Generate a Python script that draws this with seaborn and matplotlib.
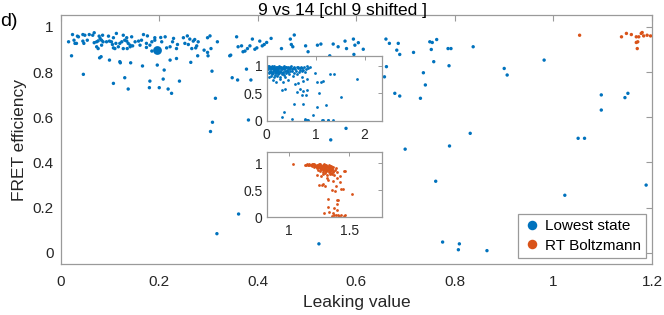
import matplotlib
matplotlib.use("Agg")
import matplotlib.pyplot as plt
import seaborn as sns
import pandas as pd

# ---------------- data ----------------
title_text = "9 vs 14 [chl 9 shifted ]"
panel_label = "d)"
xlabel_text = "Leaking value"
ylabel_text = "FRET efficiency"
series_names = ["Lowest state", "RT Boltzmann"]

lowest_x = [
    0.024, 0.034, 0.036, 0.045, 0.049, 0.058, 0.068, 0.065, 0.078, 0.085, 0.097, 0.107, 0.113, 0.127, 0.134,
    0.144, 0.168, 0.176, 0.191, 0.203, 0.212, 0.229, 0.237,
    0.016, 0.027, 0.029, 0.032, 0.045, 0.047, 0.054, 0.068, 0.073, 0.076, 0.080, 0.083, 0.086, 0.093, 0.099,
    0.103, 0.105, 0.112, 0.120, 0.124, 0.130, 0.134, 0.137, 0.141, 0.146, 0.151, 0.158, 0.161, 0.164, 0.174,
    0.181, 0.185, 0.191, 0.205, 0.215, 0.222, 0.227, 0.235,
    0.073, 0.076, 0.083, 0.107, 0.110, 0.117, 0.127, 0.135, 0.141, 0.174, 0.185,
    0.022, 0.079, 0.082, 0.099, 0.120, 0.121, 0.142, 0.166, 0.196, 0.222, 0.235, 0.210, 0.046, 0.130, 0.107,
    0.137, 0.181, 0.180, 0.200, 0.208, 0.218, 0.225, 0.241,
    0.249, 0.252, 0.257, 0.262, 0.259, 0.266, 0.269, 0.272, 0.276, 0.274, 0.279, 0.278, 0.291, 0.298, 0.303,
    0.305, 0.298, 0.299, 0.318, 0.307, 0.343, 0.345, 0.357, 0.360, 0.367, 0.370, 0.374, 0.379, 0.384, 0.389,
    0.394, 0.398, 0.404, 0.409, 0.413, 0.418, 0.427, 0.448, 0.466, 0.468, 0.474, 0.264, 0.314, 0.348, 0.359,
    0.377, 0.386,
    0.471, 0.497, 0.502, 0.521, 0.528, 0.553, 0.563, 0.577, 0.580, 0.594, 0.597, 0.604, 0.614, 0.595, 0.546,
    0.660, 0.667, 0.682, 0.685, 0.688, 0.716, 0.661, 0.657, 0.678, 0.688,
    0.749, 0.754, 0.763, 0.752, 0.786, 0.792, 0.837, 0.757, 0.788, 0.900, 0.906, 0.981, 0.736, 0.740, 0.730,
    1.097, 1.151, 1.145,
    0.308, 0.304, 0.381, 0.361, 0.317, 0.524, 0.579, 0.548, 0.699, 0.789, 0.831, 0.761, 0.775, 0.809, 0.807,
    0.865, 1.097, 1.050, 1.063, 1.023, 1.188,
]
lowest_y = [
    0.966, 0.959, 0.956, 0.966, 0.963, 0.966, 0.974, 0.963, 0.959, 0.963, 0.959, 0.952, 0.971, 0.963, 0.952,
    0.956, 0.966, 0.960, 0.952, 0.953, 0.956, 0.949, 0.922,
    0.934, 0.941, 0.927, 0.927, 0.937, 0.927, 0.941, 0.930, 0.934, 0.938, 0.949, 0.941, 0.934, 0.934, 0.937,
    0.934, 0.922, 0.927, 0.927, 0.934, 0.941, 0.937, 0.927, 0.919, 0.916, 0.934, 0.937, 0.919, 0.941, 0.927,
    0.919, 0.934, 0.941, 0.934, 0.907, 0.912, 0.934, 0.904,
    0.912, 0.904, 0.919, 0.907, 0.904, 0.912, 0.904, 0.904, 0.912, 0.909, 0.893,
    0.872, 0.863, 0.868, 0.853, 0.846, 0.841, 0.841, 0.827, 0.831, 0.853, 0.860, 0.809, 0.790, 0.775, 0.750,
    0.725, 0.760, 0.731, 0.731, 0.769, 0.725, 0.706, 0.760,
    0.952, 0.927, 0.960, 0.946, 0.922, 0.904, 0.937, 0.944, 0.916, 0.907, 0.934, 0.872, 0.897, 0.952, 0.960,
    0.904, 0.887, 0.872, 0.934, 0.804, 0.872, 0.875, 0.956, 0.912, 0.916, 0.890, 0.893, 0.904, 0.916, 0.946,
    0.901, 0.907, 0.937, 0.916, 0.922, 0.931, 0.949, 0.904, 0.946, 0.922, 0.964, 0.843, 0.684, 0.775, 0.765,
    0.813, 0.765,
    0.912, 0.916, 0.890, 0.919, 0.924, 0.924, 0.912, 0.937, 0.904, 0.946, 0.919, 0.930, 0.901, 0.878, 0.872,
    0.946, 0.927, 0.897, 0.927, 0.878, 0.887, 0.824, 0.779, 0.706, 0.694,
    0.934, 0.931, 0.944, 0.900, 0.904, 0.904, 0.912, 0.846, 0.828, 0.816, 0.787, 0.853, 0.797, 0.743, 0.684,
    0.699, 0.706, 0.687,
    0.578, 0.537, 0.588, 0.172, 0.085, 0.040, 0.551, 0.500, 0.459, 0.473, 0.529, 0.317, 0.048, 0.040, 0.014,
    0.010, 0.632, 0.507, 0.507, 0.255, 0.300,
]

# heavily overlapping group of "Lowest state" points
lowest_peak_x = [0.195]
lowest_peak_y = [0.897]

boltz_x = [1.053, 1.138, 1.148, 1.158, 1.168, 1.173, 1.178, 1.180, 1.183, 1.190, 1.197, 1.168, 1.171, 1.170]
boltz_y = [0.963, 0.956, 0.971, 0.966, 0.956, 0.956, 0.971, 0.975, 0.960, 0.963, 0.960, 0.931, 0.934, 0.904]

# inset 1: full "Lowest state" distribution
inset1_x = [
    0.02, 0.04, 0.05, 0.07, 0.08, 0.10, 0.11, 0.13, 0.15, 0.16, 0.18, 0.20, 0.21, 0.23, 0.25, 0.26, 0.28, 0.30,
    0.32, 0.34, 0.36, 0.38, 0.40, 0.43, 0.45, 0.48, 0.50, 0.53, 0.56, 0.58, 0.61, 0.64, 0.67, 0.70, 0.73, 0.77,
    0.80, 0.84, 0.88,
    0.03, 0.06, 0.09, 0.12, 0.14, 0.17, 0.19, 0.22, 0.24, 0.27, 0.29, 0.33, 0.37, 0.41, 0.44, 0.47, 0.52, 0.55,
    0.60, 0.66, 0.72, 0.78,
    0.05, 0.08, 0.10, 0.13, 0.16, 0.19, 0.23, 0.26, 0.31, 0.35, 0.40, 0.46, 0.54, 0.62, 0.09, 0.15, 0.21, 0.28,
    0.38,
    0.03, 0.06, 0.12, 0.17, 0.24, 0.31, 0.39, 0.47, 0.55, 0.63, 0.07, 0.14, 0.22, 0.29, 0.36, 0.44, 0.51, 0.04,
    0.11, 0.18, 0.26, 0.34, 0.42, 0.35, 0.68, 0.75, 0.82,
    0.054, 0.135, 0.190, 0.272, 0.340, 0.442, 0.578, 0.646, 0.714, 0.748, 0.816, 0.986, 1.034, 1.101, 1.156,
    1.292, 1.374, 1.850, 0.305, 0.374, 0.612, 0.680, 0.748, 0.830, 0.802, 0.714, 0.557, 0.748, 1.074, 1.020,
    1.210, 1.510, 0.360, 0.319, 0.510, 0.789, 0.816, 0.952, 1.122, 1.244, 1.346, 0.782, 0.847, 1.143, 1.259,
]
inset1_y = [
    0.99, 0.97, 0.99, 0.96, 0.98, 0.99, 0.95, 0.97, 0.99, 0.94, 0.97, 0.98, 0.93, 0.96, 0.99, 0.95, 0.97, 0.98,
    0.94, 0.97, 0.99, 0.95, 0.97, 0.98, 0.94, 0.97, 0.99, 0.95, 0.97, 0.93, 0.98, 0.96, 0.92, 0.97, 0.95, 0.98,
    0.94, 0.96, 0.97,
    0.93, 0.91, 0.93, 0.90, 0.92, 0.89, 0.91, 0.88, 0.92, 0.90, 0.93, 0.89, 0.91, 0.92, 0.88, 0.91, 0.90, 0.87,
    0.90, 0.88, 0.90, 0.89,
    0.86, 0.88, 0.84, 0.86, 0.83, 0.86, 0.84, 0.86, 0.85, 0.83, 0.86, 0.84, 0.82, 0.84, 0.81, 0.80, 0.81, 0.80,
    0.79,
    0.95, 0.98, 0.96, 0.95, 0.98, 0.96, 0.98, 0.96, 0.95, 0.97, 0.89, 0.94, 0.90, 0.88, 0.94, 0.96, 0.93, 0.88,
    0.87, 0.92, 0.89, 0.87, 0.90, 0.96, 0.95, 0.92, 0.99,
    0.795, 0.734, 0.703, 0.765, 0.703, 0.734, 0.673, 0.685, 0.795, 0.722, 0.765, 0.869, 0.703, 0.703, 0.722,
    0.844, 0.856, 0.765, 0.550, 0.581, 0.520, 0.581, 0.538, 0.550, 0.459, 0.459, 0.306, 0.306, 0.502, 0.245,
    0.287, 0.428, 0.153, 0.073, 0.031, 0.031, 0.010, 0.110, 0.010, 0.010, 0.018, 0.010, 0.010, 0.010, 0.010,
]

# inset 2: full "RT Boltzmann" distribution
inset2_x = [
    1.13, 1.15, 1.16, 1.18, 1.19, 1.20, 1.21, 1.22, 1.23, 1.24, 1.25, 1.25, 1.26, 1.27, 1.27, 1.28, 1.28, 1.29,
    1.29, 1.30, 1.30, 1.31, 1.31, 1.32, 1.32, 1.33, 1.33, 1.34, 1.34, 1.35, 1.35, 1.36, 1.36, 1.37, 1.23, 1.24,
    1.26, 1.28, 1.30, 1.22, 1.26, 1.29, 1.31, 1.33, 1.35, 1.37, 1.38, 1.21, 1.19, 1.17, 1.14, 1.28, 1.32, 1.34,
    1.165, 1.185, 1.205, 1.225, 1.245, 1.265, 1.285, 1.305, 1.325, 1.345, 1.215, 1.235, 1.255, 1.275, 1.295,
    1.315, 1.335, 1.355, 1.245, 1.265, 1.285, 1.305, 1.325, 1.345, 1.365,
    1.036, 1.392, 1.461, 1.397, 1.355, 1.378, 1.403, 1.425, 1.236, 1.264, 1.314, 1.253, 1.286, 1.369, 1.425,
    1.453, 1.355, 1.383, 1.522, 1.322, 1.397, 1.328, 1.403, 1.292, 1.369, 1.375, 1.392, 1.411, 1.431, 1.467,
    1.464, 1.376, 1.334, 1.401, 1.360, 1.417, 1.455, 1.274, 1.303, 1.322, 1.395, 1.432, 1.408,
]
inset2_y = [
    0.97, 0.98, 0.96, 0.97, 0.95, 0.98, 0.96, 0.94, 0.97, 0.95, 0.92, 0.98, 0.96, 0.93, 0.90, 0.97, 0.94, 0.91,
    0.88, 0.96, 0.93, 0.90, 0.86, 0.95, 0.92, 0.89, 0.84, 0.94, 0.91, 0.87, 0.82, 0.93, 0.89, 0.85, 0.91, 0.88,
    0.86, 0.84, 0.82, 0.97, 0.99, 0.98, 0.97, 0.96, 0.95, 0.92, 0.88, 0.92, 0.98, 0.97, 0.96, 0.80, 0.79, 0.80,
    0.975, 0.965, 0.975, 0.955, 0.965, 0.945, 0.955, 0.935, 0.935, 0.925, 0.945, 0.925, 0.905, 0.915, 0.895,
    0.875, 0.905, 0.895, 0.935, 0.885, 0.865, 0.855, 0.865, 0.855, 0.835,
    0.980, 0.919, 0.858, 0.834, 0.797, 0.772, 0.723, 0.754, 0.772, 0.754, 0.723, 0.601, 0.613, 0.662, 0.649,
    0.527, 0.509, 0.490, 0.436, 0.338, 0.325, 0.184, 0.245, 0.080, 0.080, 0.037, 0.037, 0.037, 0.037, 0.037,
    0.846, 0.172, 0.092, 0.129, 0.031, 0.015, 0.018, 0.595, 0.583, 0.693, 0.583, 0.522, 0.325,
]

main_xticks = [0, 0.2, 0.4, 0.6, 0.8, 1.0, 1.2]
main_xticklabels = ["0", "0.2", "0.4", "0.6", "0.8", "1", "1.2"]
main_yticks = [0, 0.2, 0.4, 0.6, 0.8, 1.0]
main_yticklabels = ["0", "0.2", "0.4", "0.6", "0.8", "1"]
inset1_xticks = [0, 1, 2]
inset1_xticklabels = ["0", "1", "2"]
inset2_xticks = [1, 1.5]
inset2_xticklabels = ["1", "1.5"]
inset_yticks = [0, 0.5, 1]
inset_yticklabels = ["0", "0.5", "1"]

# ---------------- style ----------------
BLUE = "#0072BD"
ORANGE = "#D95319"
SPINE = "#9a9a9a"
TXT = "#262626"

sns.set_style("white")
plt.rcParams["font.family"] = ["Liberation Sans", "DejaVu Sans"]
plt.rcParams["xtick.direction"] = "in"
plt.rcParams["ytick.direction"] = "in"

fig = plt.figure(figsize=(6.64, 3.15), dpi=100)
ax = fig.add_axes([0.0914, 0.162, 0.8906, 0.790])

main_df = pd.DataFrame({
    "x": lowest_x + boltz_x,
    "y": lowest_y + boltz_y,
    "series": [series_names[0]] * len(lowest_x) + [series_names[1]] * len(boltz_x),
})
palette = {series_names[0]: BLUE, series_names[1]: ORANGE}
sns.scatterplot(data=main_df, x="x", y="y", hue="series", palette=palette, s=6,
                linewidth=0, ax=ax, legend=True, zorder=3)
sns.scatterplot(x=lowest_peak_x, y=lowest_peak_y, color=BLUE, s=40, linewidth=0,
                ax=ax, legend=False, zorder=3)

ax.set_xlim(0, 1.2)
ax.set_ylim(-0.049, 1.052)
ax.set_xticks(main_xticks)
ax.set_xticklabels(main_xticklabels)
ax.set_yticks(main_yticks)
ax.set_yticklabels(main_yticklabels)
ax.tick_params(axis="both", which="both", direction="in", length=4, width=0.8,
               color=SPINE, labelcolor=TXT, labelsize=11, top=True, right=True, pad=5)
ax.tick_params(axis="x", pad=8)
for sp in ax.spines.values():
    sp.set_color(SPINE)
    sp.set_linewidth(0.9)
ax.set_xlabel(xlabel_text, fontsize=12.5, color=TXT, labelpad=4)
ax.set_ylabel(ylabel_text, fontsize=12.5, color=TXT, labelpad=4)

leg = ax.legend(loc="lower right", fontsize=11, markerscale=2.8, frameon=True,
                fancybox=False, edgecolor=SPINE, handletextpad=0.2, borderpad=0.35,
                handlelength=1.2, labelspacing=0.35, borderaxespad=0.4, framealpha=1)
leg.get_frame().set_linewidth(0.9)
for t in leg.get_texts():
    t.set_color("black")

fig.text(343 / 664, 1 - 11 / 315, title_text, ha="center", va="center", fontsize=12.5, color="black")
fig.text(0.0, 1 - 21 / 315, panel_label, ha="left", va="center", fontsize=14, color="black")

# ---------------- insets ----------------
def style_inset(a, xt, xtl):
    a.set_xticks(xt)
    a.set_xticklabels(xtl)
    a.set_yticks(inset_yticks)
    a.set_yticklabels(inset_yticklabels)
    a.tick_params(axis="both", direction="in", length=3, width=0.7, color=SPINE,
                  labelcolor=TXT, labelsize=10, top=True, right=True, pad=3)
    a.tick_params(axis="x", pad=5)
    for sp in a.spines.values():
        sp.set_color(SPINE)
        sp.set_linewidth(0.9)
    a.set_xlabel("")
    a.set_ylabel("")

ax1 = fig.add_axes([0.4017, 0.6168, 0.1732, 0.2063])
sns.scatterplot(x=inset1_x, y=inset1_y, color=BLUE, s=4, linewidth=0, ax=ax1, legend=False)
ax1.set_xlim(0, 2.35)
ax1.set_ylim(0, 1.18)
style_inset(ax1, inset1_xticks, inset1_xticklabels)

ax2 = fig.add_axes([0.4017, 0.3102, 0.1732, 0.2063])
sns.scatterplot(x=inset2_x, y=inset2_y, color=ORANGE, s=4, linewidth=0, ax=ax2, legend=False)
ax2.set_xlim(0.814, 1.772)
ax2.set_ylim(0, 1.2)
style_inset(ax2, inset2_xticks, inset2_xticklabels)

fig.savefig("out.png", dpi=100)
